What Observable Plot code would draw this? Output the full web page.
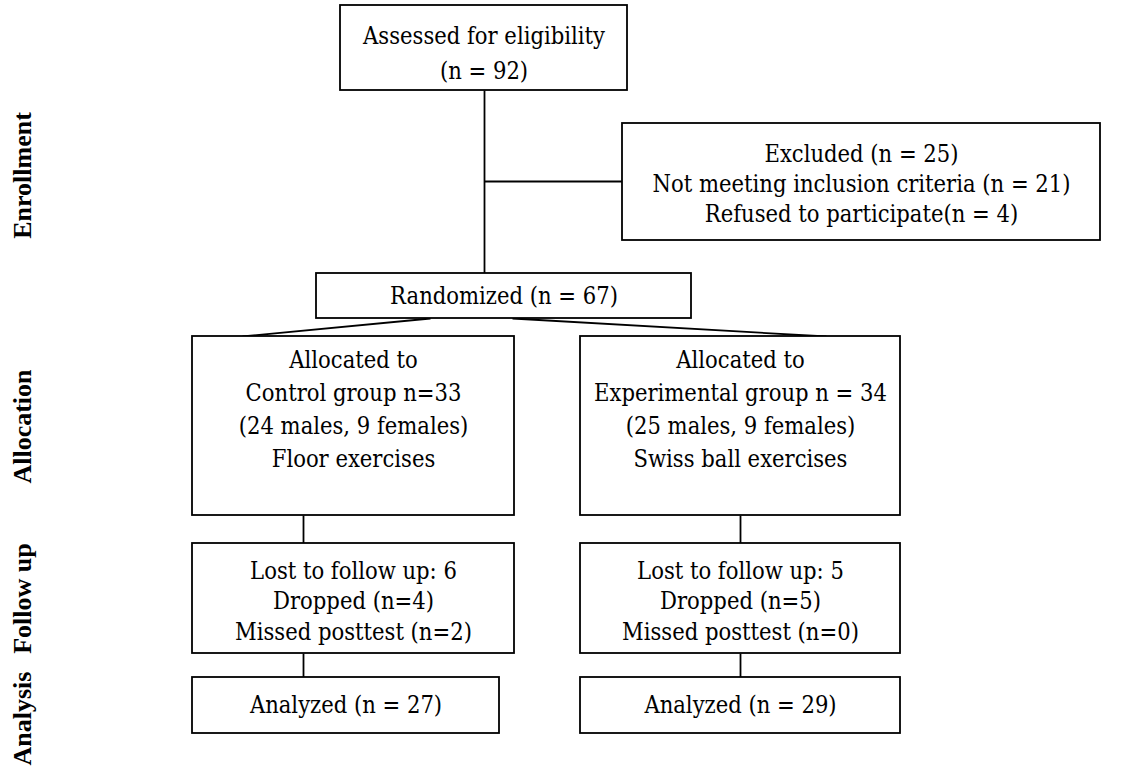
<!DOCTYPE html>
<html><head><meta charset="utf-8">
<script src="https://cdn.jsdelivr.net/npm/d3@7"></script>
<script src="https://cdn.jsdelivr.net/npm/@observablehq/plot@0.6"></script>
<style>body{margin:0;background:#fff}</style>
</head><body><div id="chart"></div><script>
// Stage labels (left margin)
const stages = ["Enrollment", "Allocation", "Follow up", "Analysis"];
// Flow nodes and their text
const nodeIds = ["assessed", "excluded", "randomized", "alloc_c", "alloc_e", "follow_c", "follow_e", "anal_c", "anal_e"];
const nodeLabels = [
  "Assessed for eligibility\n(n = 92)",
  "Excluded (n = 25)\nNot meeting inclusion criteria (n = 21)\nRefused to participate(n = 4)",
  "Randomized (n = 67)",
  "Allocated to\nControl group n=33\n(24 males, 9 females)\nFloor exercises",
  "Allocated to\nExperimental group n = 34\n(25 males, 9 females)\nSwiss ball exercises",
  "Lost to follow up: 6\nDropped (n=4)\nMissed posttest (n=2)",
  "Lost to follow up: 5\nDropped (n=5)\nMissed posttest (n=0)",
  "Analyzed (n = 27)",
  "Analyzed (n = 29)"
];
// Connections between nodes
const edgeFrom = ["assessed", "assessed", "randomized", "randomized", "alloc_c", "follow_c", "alloc_e", "follow_e"];
const edgeTo   = ["randomized", "excluded", "alloc_c", "alloc_e", "follow_c", "anal_c", "follow_e", "anal_e"];

// ---- diagram layout (separate from the data) ----
const W = 1121, H = 778;
const layout = {
  assessed:   {x1: 340, x2: 627, y1: 5,   y2: 90,  lh: 1.5, dy: 2},
  excluded:   {x1: 622, x2: 1100, y1: 123, y2: 240, lh: 1.28, dy: 0},
  randomized: {x1: 316, x2: 691, y1: 273, y2: 318, lh: 1, dy: 0},
  alloc_c:    {x1: 192, x2: 514, y1: 336, y2: 515, lh: 1.4, dy: -19},
  alloc_e:    {x1: 580, x2: 900, y1: 336, y2: 515, lh: 1.4, dy: -19},
  follow_c:   {x1: 192, x2: 514, y1: 543, y2: 653, lh: 1.3, dy: 1},
  follow_e:   {x1: 580, x2: 900, y1: 543, y2: 653, lh: 1.3, dy: 1},
  anal_c:     {x1: 192, x2: 499, y1: 677, y2: 733, lh: 1, dy: 0},
  anal_e:     {x1: 580, x2: 900, y1: 677, y2: 733, lh: 1, dy: 0}
};
const edgeLayout = [
  {x1: 484, y1: 90,  x2: 484, y2: 273},
  {x1: 484, y1: 181, x2: 622, y2: 181},
  {x1: 430, y1: 318, x2: 242, y2: 336},
  {x1: 512, y1: 318, x2: 826, y2: 336},
  {x1: 303, y1: 515, x2: 303, y2: 543},
  {x1: 303, y1: 653, x2: 303, y2: 677},
  {x1: 740, y1: 515, x2: 740, y2: 543},
  {x1: 740, y1: 653, x2: 740, y2: 677}
];
const stageLayout = [{x: 22, y: 175}, {x: 22, y: 426}, {x: 22, y: 598}, {x: 22, y: 718}];

const nodes = nodeIds.map((id, i) => ({id, label: nodeLabels[i], ...layout[id], cx: (layout[id].x1 + layout[id].x2) / 2, cy: (layout[id].y1 + layout[id].y2) / 2 + layout[id].dy}));
const edges = edgeFrom.map((f, i) => ({from: f, to: edgeTo[i], ...edgeLayout[i]}));
const stageData = stages.map((s, i) => ({label: s, ...stageLayout[i]}));

const font = "'DejaVu Serif Condensed', 'DejaVu Serif'";
const fs = 23.5;
const textMarks = nodes.map(n => Plot.text([n], {
  x: "cx", y: "cy", text: "label", fontSize: fs, fontFamily: font,
  lineHeight: n.lh, textAnchor: "middle", lineAnchor: "middle", fill: "black"
}));

const chart = Plot.plot({
  width: W, height: H,
  margin: 0,
  x: {domain: [0, W], range: [0, W], axis: null},
  y: {domain: [0, H], range: [0, H], axis: null},
  style: {background: "white"},
  marks: [
    Plot.link(edges, {x1: "x1", y1: "y1", x2: "x2", y2: "y2", stroke: "black", strokeWidth: 1.8}),
    Plot.rect(nodes, {x1: "x1", x2: "x2", y1: "y1", y2: "y2", fill: "white", stroke: "black", strokeWidth: 1.8}),
    ...textMarks,
    Plot.text(stageData, {x: "x", y: "y", text: "label", rotate: -90, fontSize: 26, fontWeight: "bold", fontFamily: "Liberation Serif", fill: "black"})
  ]
});
document.getElementById("chart").appendChild(chart);
</script></body></html>
